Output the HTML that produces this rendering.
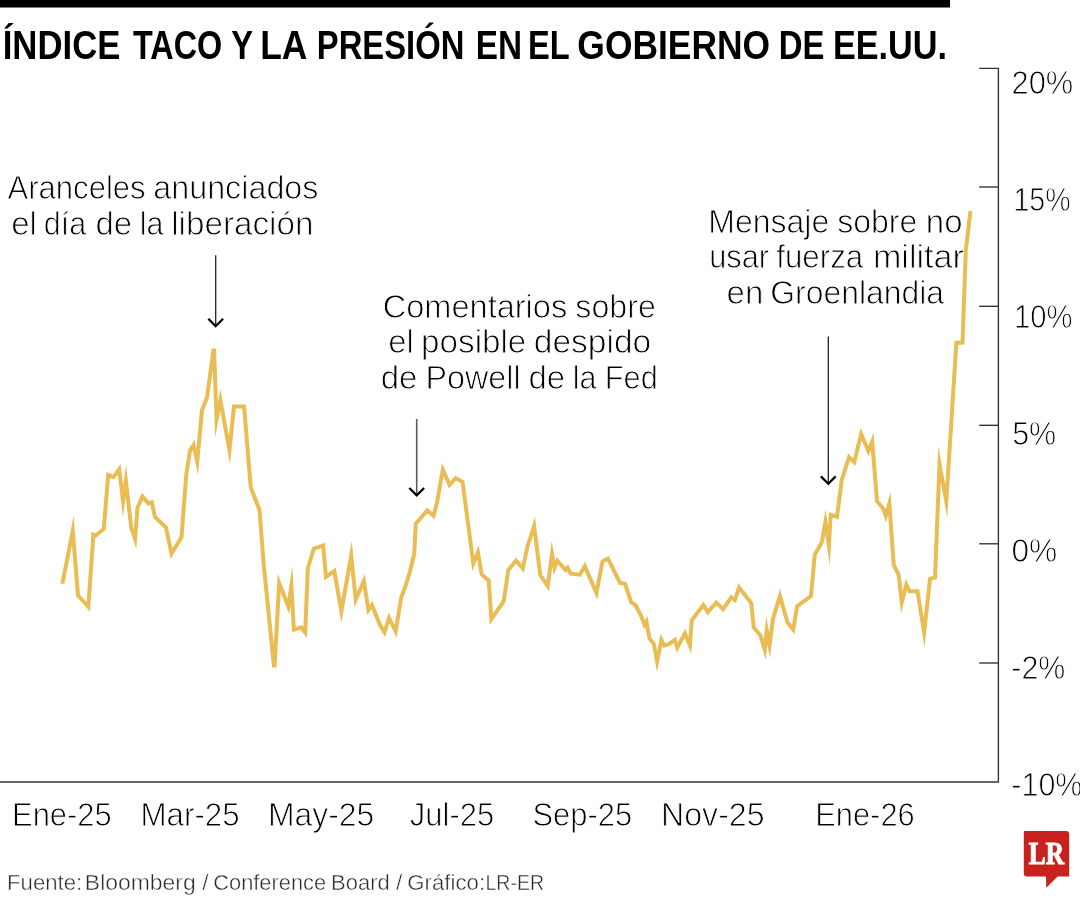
<!DOCTYPE html>
<html lang="es"><head><meta charset="utf-8"><title>Índice TACO</title>
<style>
html,body{margin:0;padding:0;background:#fff;}
body{width:1080px;height:900px;overflow:hidden;font-family:"Liberation Sans",sans-serif;}
svg{display:block;will-change:transform;}

text{font-family:"Liberation Sans",sans-serif;fill:#000;}
.lt{stroke:#fff;stroke-width:0.9px;paint-order:fill stroke;}
.bd{font-weight:bold;fill:#000;}
.src{fill:#2a2a2a;stroke:#fff;stroke-width:0.45px;}
.lr{font-family:"Liberation Serif",serif;font-weight:bold;fill:#fff;stroke:#fff;stroke-width:1.1px;}

</style></head><body>
<svg width="1080" height="900" viewBox="0 0 1080 900">
<rect width="1080" height="900" fill="#fff"/>
<rect x="0" y="0" width="950" height="7.5" fill="#000"/>
<path d="M0 782 H998.4 V68.4 H979.2" fill="none" stroke="#333" stroke-width="1.35"/>
<line x1="979.2" y1="187" x2="998.4" y2="187" stroke="#333" stroke-width="1.35"/>
<line x1="979.2" y1="306.3" x2="998.4" y2="306.3" stroke="#333" stroke-width="1.35"/>
<line x1="979.2" y1="425.3" x2="998.4" y2="425.3" stroke="#333" stroke-width="1.35"/>
<line x1="979.2" y1="543.8" x2="998.4" y2="543.8" stroke="#333" stroke-width="1.35"/>
<line x1="979.2" y1="663" x2="998.4" y2="663" stroke="#333" stroke-width="1.35"/>
<line x1="215.7" y1="255.3" x2="215.7" y2="325.9" stroke="#222" stroke-width="1.3"/><polyline points="208.29999999999998,318.79999999999995 215.7,326.2 223.1,318.79999999999995" fill="none" stroke="#000" stroke-width="2.2" stroke-linejoin="miter"/>
<line x1="416.7" y1="418.9" x2="416.7" y2="495.1" stroke="#5a5a5a" stroke-width="1.6"/><polyline points="409.3,488.0 416.7,495.40000000000003 424.09999999999997,488.0" fill="none" stroke="#000" stroke-width="2.2" stroke-linejoin="miter"/>
<line x1="828.3" y1="336.4" x2="828.3" y2="483.5" stroke="#222" stroke-width="1.3"/><polyline points="820.9,476.4 828.3,483.8 835.6999999999999,476.4" fill="none" stroke="#000" stroke-width="2.2" stroke-linejoin="miter"/>
<text class="bd" font-size="40.3" transform="translate(2.68 58.6) scale(0.8624 1)">ÍNDICE</text>
<text class="bd" font-size="40.3" transform="translate(132.90 58.6) scale(0.8037 1)">TACO</text>
<text class="bd" font-size="40.3" transform="translate(231.25 58.6) scale(0.8113 1)">Y</text>
<text class="bd" font-size="40.3" transform="translate(260.17 58.6) scale(0.8789 1)">LA</text>
<text class="bd" font-size="40.3" transform="translate(316.86 58.6) scale(0.8131 1)">PRESIÓN</text>
<text class="bd" font-size="40.3" transform="translate(475.72 58.6) scale(0.8277 1)">EN</text>
<text class="bd" font-size="40.3" transform="translate(528.05 58.6) scale(0.8113 1)">EL</text>
<text class="bd" font-size="40.3" transform="translate(577.36 58.6) scale(0.8787 1)">GOBIERNO</text>
<text class="bd" font-size="40.3" transform="translate(778.86 58.6) scale(0.8155 1)">DE</text>
<text class="bd" font-size="40.3" transform="translate(832.96 58.6) scale(0.8497 1)">EE.UU.</text>
<text class="lt" font-size="33.8" transform="translate(7.51 198.9) scale(0.9191 1)">Aranceles</text>
<text class="lt" font-size="33.8" transform="translate(153.29 198.9) scale(0.9554 1)">anunciados</text>
<text class="lt" font-size="33.8" transform="translate(11.14 234.8) scale(0.9770 1)">el</text>
<text class="lt" font-size="33.8" transform="translate(43.79 234.8) scale(0.9034 1)">día</text>
<text class="lt" font-size="33.8" transform="translate(95.51 234.8) scale(0.9770 1)">de</text>
<text class="lt" font-size="33.8" transform="translate(139.70 234.8) scale(0.9018 1)">la</text>
<text class="lt" font-size="33.8" transform="translate(171.19 234.8) scale(0.9838 1)">liberación</text>
<text class="lt" font-size="33.8" transform="translate(382.73 317.7) scale(0.9630 1)">Comentarios</text>
<text class="lt" font-size="33.8" transform="translate(575.37 317.7) scale(0.9519 1)">sobre</text>
<text class="lt" font-size="33.8" transform="translate(388.26 353.3) scale(0.9721 1)">el</text>
<text class="lt" font-size="33.8" transform="translate(421.10 353.3) scale(0.9824 1)">posible</text>
<text class="lt" font-size="33.8" transform="translate(533.82 353.3) scale(0.9921 1)">despido</text>
<text class="lt" font-size="33.8" transform="translate(380.76 389.0) scale(0.9770 1)">de</text>
<text class="lt" font-size="33.8" transform="translate(425.60 389.0) scale(0.9551 1)">Powell</text>
<text class="lt" font-size="33.8" transform="translate(528.51 389.0) scale(0.9770 1)">de</text>
<text class="lt" font-size="33.8" transform="translate(572.85 389.0) scale(0.9018 1)">la</text>
<text class="lt" font-size="33.8" transform="translate(604.85 389.0) scale(0.9091 1)">Fed</text>
<text class="lt" font-size="33.8" transform="translate(708.22 232.7) scale(0.9478 1)">Mensaje</text>
<text class="lt" font-size="33.8" transform="translate(837.18 232.7) scale(0.9469 1)">sobre</text>
<text class="lt" font-size="33.8" transform="translate(925.84 232.7) scale(0.9770 1)">no</text>
<text class="lt" font-size="33.8" transform="translate(709.19 268.3) scale(0.9113 1)">usar</text>
<text class="lt" font-size="33.8" transform="translate(776.27 268.3) scale(0.9254 1)">fuerza</text>
<text class="lt" font-size="33.8" transform="translate(872.92 268.3) scale(1.0099 1)">militar</text>
<text class="lt" font-size="33.8" transform="translate(726.53 304.0) scale(0.9770 1)">en</text>
<text class="lt" font-size="33.8" transform="translate(770.28 304.0) scale(0.9441 1)">Groenlandia</text>
<text class="lt" font-size="33.8" transform="translate(12.02 825.5) scale(0.9157 1)">Ene-25</text>
<text class="lt" font-size="33.8" transform="translate(140.49 825.5) scale(0.9265 1)">Mar-25</text>
<text class="lt" font-size="33.8" transform="translate(267.93 825.5) scale(0.9442 1)">May-25</text>
<text class="lt" font-size="33.8" transform="translate(409.86 825.5) scale(0.9157 1)">Jul-25</text>
<text class="lt" font-size="33.8" transform="translate(532.44 825.5) scale(0.9155 1)">Sep-25</text>
<text class="lt" font-size="33.8" transform="translate(661.01 825.5) scale(0.9504 1)">Nov-25</text>
<text class="lt" font-size="33.8" transform="translate(815.13 825.5) scale(0.9147 1)">Ene-26</text>
<text class="lt" font-size="33.8" transform="translate(1011.55 94.4) scale(0.9129 1)">20%</text>
<text class="lt" font-size="33.8" transform="translate(1013.43 211.4) scale(0.8455 1)">15%</text>
<text class="lt" font-size="33.8" transform="translate(1014.10 328.4) scale(0.8651 1)">10%</text>
<text class="lt" font-size="33.8" transform="translate(1012.14 445.4) scale(0.9018 1)">5%</text>
<text class="lt" font-size="33.8" transform="translate(1011.46 562.4) scale(0.9385 1)">0%</text>
<text class="lt" font-size="33.8" transform="translate(1011.30 679.4) scale(0.8991 1)">-2%</text>
<text class="lt" font-size="33.8" transform="translate(1011.30 796.4) scale(0.9023 1)">-10%</text>
<text class="src" font-size="22.2" transform="translate(7.11 889.7) scale(0.9972 1)">Fuente:</text>
<text class="src" font-size="22.2" transform="translate(84.83 889.7) scale(1.0338 1)">Bloomberg</text>
<text class="src" font-size="22.2" transform="translate(202.14 889.7) scale(1.0184 1)">/</text>
<text class="src" font-size="22.2" transform="translate(213.22 889.7) scale(0.9848 1)">Conference</text>
<text class="src" font-size="22.2" transform="translate(331.02 889.7) scale(0.9910 1)">Board</text>
<text class="src" font-size="22.2" transform="translate(395.89 889.7) scale(1.0184 1)">/</text>
<text class="src" font-size="22.2" transform="translate(407.20 889.7) scale(1.0020 1)">Gráfico:</text>
<text class="src" font-size="22.2" transform="translate(485.48 889.7) scale(0.8813 1)">LR-ER</text>
<polyline points="62.19,584.82 72.77,530.66 78.00,595.50 88.33,606.73 93.38,534.65 95.47,535.71 103.75,529.00 108.21,474.85 113.51,477.13 119.14,469.31 123.08,501.32 125.85,480.67 131.25,527.50 135.07,538.97 137.50,507.50 142.49,496.32 148.12,503.37 151.77,502.26 155.00,517.00 166.00,527.50 171.51,553.61 181.50,537.00 186.25,475.00 190.00,450.75 193.58,445.00 197.21,461.83 202.00,410.00 207.00,397.50 213.40,350.50 214.10,350.50 216.56,419.57 220.34,399.90 229.46,450.27 233.97,406.51 244.07,406.51 250.75,487.50 259.50,510.00 263.75,565.00 273.90,665.50 274.60,665.50 279.21,583.00 288.36,606.46 291.38,585.67 293.88,629.65 301.13,627.40 305.22,632.54 307.75,568.75 313.75,548.75 323.10,545.43 326.02,576.88 334.32,571.05 341.36,611.21 351.22,555.50 355.72,599.71 363.85,581.07 368.44,609.98 371.89,604.95 380.00,625.00 384.50,632.25 389.05,617.86 395.65,631.27 401.25,597.50 405.00,587.50 410.00,571.25 414.25,553.75 415.75,523.75 427.14,510.55 433.59,515.75 437.00,502.50 442.83,469.76 449.58,484.89 455.63,478.23 462.50,481.75 473.35,563.55 477.92,552.43 481.75,574.50 488.75,580.50 491.36,619.16 503.75,601.25 508.25,570.00 516.03,560.50 522.79,568.38 527.50,546.25 534.12,526.08 540.25,575.00 547.72,586.03 552.03,553.95 554.50,567.84 557.38,560.75 565.51,570.02 567.57,567.73 570.75,573.75 579.86,574.73 584.76,566.19 596.49,593.02 602.50,561.25 607.96,558.59 620.00,583.00 625.00,583.75 631.25,602.50 635.50,605.00 641.25,616.25 644.44,624.57 646.44,621.41 649.50,638.50 653.75,643.75 657.08,661.53 661.43,639.96 664.21,645.69 668.75,644.25 674.93,640.03 677.22,647.58 684.91,633.39 689.92,645.45 691.75,620.25 703.34,604.93 707.77,612.09 716.32,602.62 723.11,609.11 731.20,597.40 734.90,600.12 739.08,587.43 751.25,603.00 753.75,627.50 760.30,635.15 764.76,649.69 766.73,630.14 769.52,645.20 773.00,618.75 779.94,595.85 787.50,622.50 793.19,629.56 797.25,606.25 811.00,596.00 814.75,554.50 821.75,542.50 825.41,521.79 828.89,545.54 830.68,514.64 837.02,516.78 841.75,480.00 849.07,457.10 854.20,462.12 861.16,433.98 868.43,450.99 872.20,441.48 877.00,501.25 883.25,508.75 885.79,515.92 889.32,503.48 893.75,565.00 898.75,575.00 901.78,602.37 906.32,584.59 909.50,591.25 917.50,591.25 924.16,632.73 930.00,578.75 935.00,577.50 939.53,464.17 946.29,501.32 956.36,342.90 962.52,342.58 965.80,250.50 970.50,211.00" fill="none" stroke="#E9BD54" stroke-width="4" stroke-linejoin="miter" stroke-miterlimit="40"/>
<rect x="56" y="583.7" width="12" height="5" fill="#fff"/>
<path d="M1025 831 H1066 Q1069.2 831 1069.2 834.2 V876.4 H1057.6 L1046.3 887.8 L1046 876.4 H1027 Q1023.8 876.4 1023.8 873.2 V832.2 Q1023.8 831 1025 831 Z" fill="#C9211E"/>
<text class="lr" font-size="30.8" transform="translate(1028.80 864.1) scale(0.8206 1)">LR</text>
</svg>
</body></html>
